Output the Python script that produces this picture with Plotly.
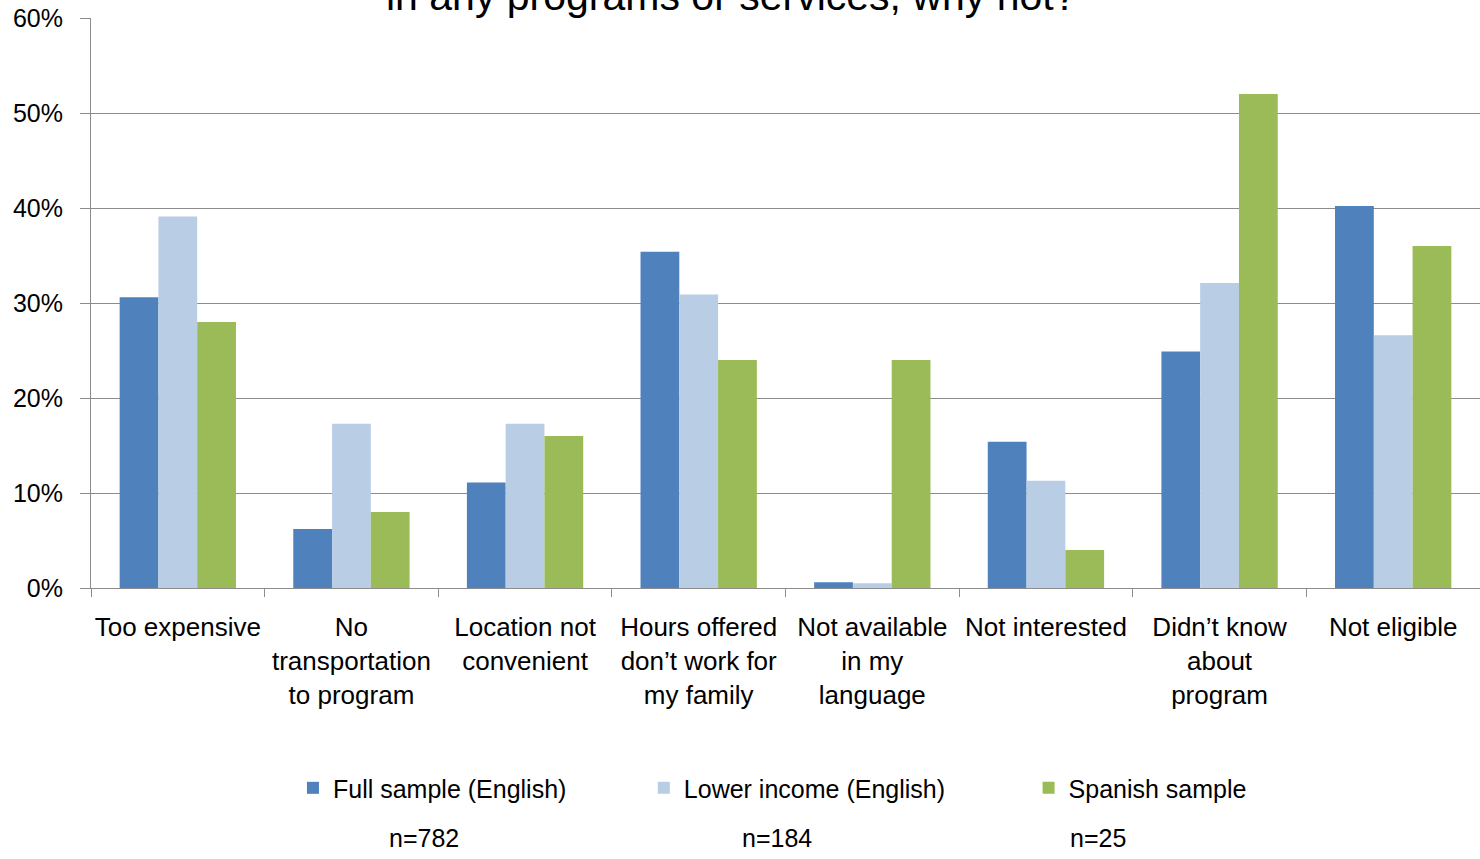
import plotly.graph_objs as go

categories = [
    "Too expensive",
    "No<br>transportation<br>to program",
    "Location not<br>convenient",
    "Hours offered<br>don’t work for<br>my family",
    "Not available<br>in my<br>language",
    "Not interested",
    "Didn’t know<br>about<br>program",
    "Not eligible",
]
full_sample = [30.6, 6.2, 11.1, 35.4, 0.6, 15.4, 24.9, 40.2]
lower_income = [39.1, 17.3, 17.3, 30.9, 0.5, 11.3, 32.1, 26.6]
spanish_sample = [28.0, 8.0, 16.0, 24.0, 24.0, 4.0, 52.0, 36.0]
series_names = ["Full sample (English)", "Lower income (English)", "Spanish sample"]
sample_sizes = ["n=782", "n=184", "n=25"]

font = "Liberation Sans, Arial"
colors = ["#4F81BD", "#B9CDE5", "#9BBB59"]
grid = "#8c8c8c"

fig = go.Figure()
legends = ["legend", "legend2", "legend3"]
for vals, name, color, lg in zip([full_sample, lower_income, spanish_sample],
                                 series_names, colors, legends):
    fig.add_trace(go.Bar(x=categories, y=vals, name=name, marker_color=color,
                         marker_line_width=0, legend=lg))

# one legend per series so each can sit where the original puts it
leg_x = [0.1454, 0.398, 0.675]
leg_common = dict(orientation="h", yanchor="middle", xanchor="left", y=-0.351,
                  font=dict(family=font, size=25, color="#000"),
                  bgcolor="rgba(0,0,0,0)")
fig.update_layout(
    legend=dict(x=leg_x[0], **leg_common),
    legend2=dict(x=leg_x[1], **leg_common),
    legend3=dict(x=leg_x[2], **leg_common),
)

n_x = [0.2397, 0.4939, 0.725]
for nx, txt in zip(n_x, sample_sizes):
    fig.add_annotation(text=txt, x=nx, y=-0.4386, xref="paper", yref="paper",
                       xanchor="center", yanchor="middle", showarrow=False,
                       font=dict(family=font, size=25, color="#000"))

# title, mostly cut off at the top edge as in the original
fig.add_annotation(text="in any programs or services, why not?", x=0.461, y=1,
                   xref="paper", yref="paper", xanchor="center", yanchor="middle",
                   yshift=22, showarrow=False,
                   font=dict(family=font, size=41, color="#000"))

fig.update_layout(
    width=1480, height=859,
    margin=dict(l=91, r=0, t=18, b=271),
    plot_bgcolor="white", paper_bgcolor="white",
    barmode="group", bargap=0.33, bargroupgap=0,
    font=dict(family=font, size=26, color="#000"),
    showlegend=True,
)
fig.update_xaxes(showline=True, linecolor=grid, linewidth=1, ticks="outside",
                 tickson="boundaries", ticklen=8, tickcolor=grid, showgrid=False,
                 tickangle=0, ticklabelstandoff=16,
                 tickfont=dict(family=font, size=26, color="#000"))
fig.update_yaxes(range=[0, 60], dtick=10, ticksuffix="%", showline=True,
                 linecolor=grid, linewidth=1, ticks="outside", ticklen=10,
                 tickcolor=grid, gridcolor=grid, gridwidth=1, zeroline=False,
                 ticklabelstandoff=12,
                 tickfont=dict(family=font, size=25, color="#000"))

# drop the page's default body margin so the chart starts at the corner
fig.write_html("out.html", config={"displayModeBar": False},
               post_script="document.body.style.margin='0';")
